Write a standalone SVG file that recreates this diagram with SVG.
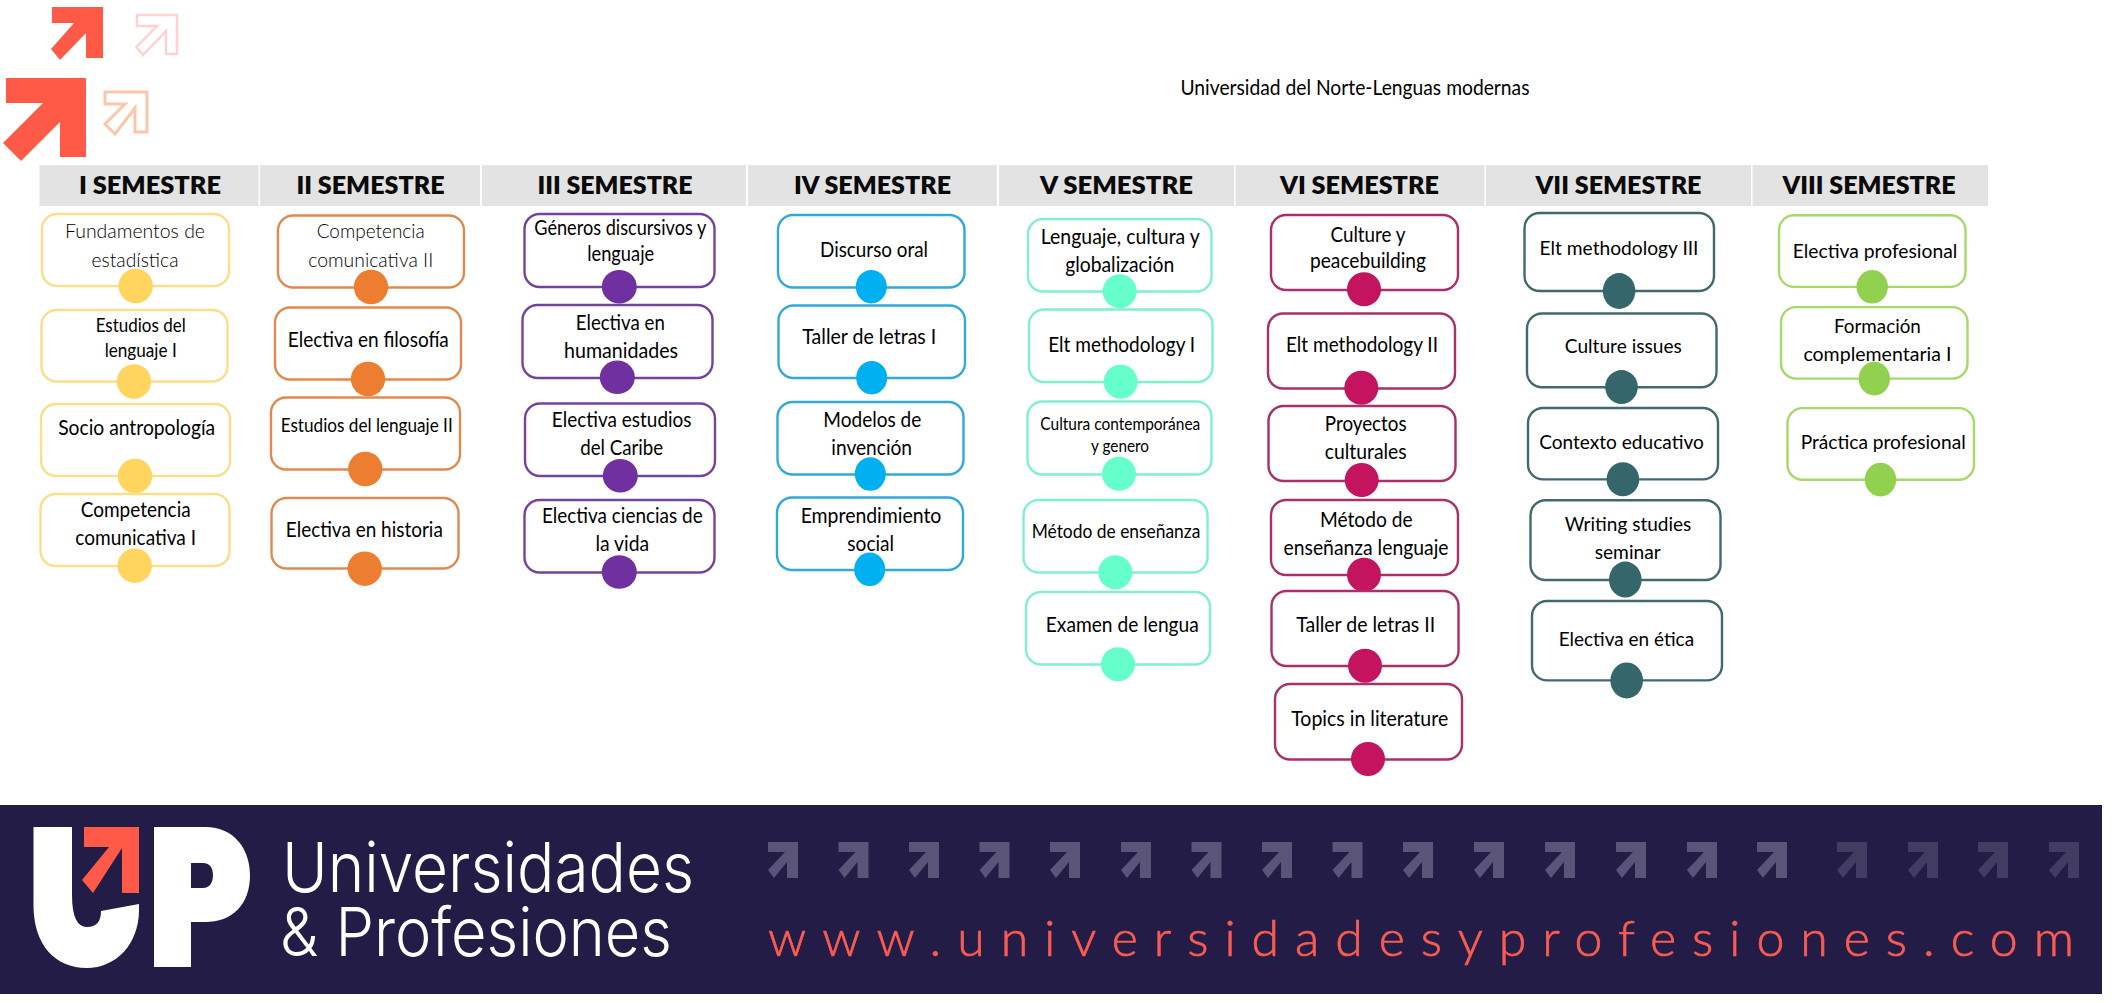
<svg xmlns="http://www.w3.org/2000/svg" width="2123" height="1003" viewBox="0 0 2123 1003">
<style>
text{font-family:"Lato","Liberation Sans",sans-serif;font-size:20.5px;fill:#000;text-anchor:middle}
.hd{font-weight:800;font-size:24px;fill:#0a0a0a}
.band{fill:#e3e3e3}
.box{fill:#fff;stroke-width:2.4}
.thin{fill:#000;font-weight:300}
.sm{font-size:18.5px}
.xs{font-size:16.5px}
.c1 rect{stroke:#fade8c}.c1 ellipse{fill:#ffd55f}
.c2 rect{stroke:#e08a50}.c2 ellipse{fill:#ed7d31}
.c3 rect{stroke:#7343a0}.c3 ellipse{fill:#7030a0}
.c4 rect{stroke:#30aad8}.c4 ellipse{fill:#00b0f0}
.c5 rect{stroke:#80efd2}.c5 ellipse{fill:#66ffcc}
.c6 rect{stroke:#a93068}.c6 ellipse{fill:#c4135f}
.c7 rect{stroke:#43696d}.c7 ellipse{fill:#35666b}
.c8 rect{stroke:#a6d86a}.c8 ellipse{fill:#92d050}
.logo{font-family:"Inter","Liberation Sans",sans-serif;font-weight:300;fill:#fff;text-anchor:start}
.u1{font-size:69px}
.u2{font-size:67px}
.url{font-weight:300;font-size:50px;fill:#f95c50;stroke:#f95c50;stroke-width:.7;text-anchor:start}
</style>
<defs>
<path id="ba" d="M0 0H30V36H19V20L6 36L0 28L17 10H0Z"/>
</defs>
<rect width="2123" height="1003" fill="#fff"/>

<g id="top-arrows">
<path d="M52 7H103V58H86V33L60 60L51 49L74 23H52Z" fill="#ff5a48"/>
<path d="M137 15H177V54H166V31L143 55L136.500 47L157 26H137Z" fill="none" stroke="#fbd3cf" stroke-width="2.500"/>
<path d="M6 78H86V157H60V122L21 161L3 143L43 103H6Z" fill="#ff5a48"/>
<path d="M105 92H147V132H135V108L115 134L105 124L125 104H105Z" fill="none" stroke="#fbc6aa" stroke-width="3"/>
</g>

<text id="title" style="font-size:21.5px" x="1355" y="94.500" textLength="349" lengthAdjust="spacingAndGlyphs">Universidad del Norte-Lenguas modernas</text>

<g id="header">
<rect class="band" x="39.500" y="165" width="219" height="41"/>
<rect class="band" x="260" y="165" width="220" height="41"/>
<rect class="band" x="482" y="165" width="264" height="41"/>
<rect class="band" x="748" y="165" width="249" height="41"/>
<rect class="band" x="999" y="165" width="235" height="41"/>
<rect class="band" x="1235.500" y="165" width="249" height="41"/>
<rect class="band" x="1486" y="165" width="265" height="41"/>
<rect class="band" x="1752.500" y="165" width="235.500" height="41"/>
<text class="hd" x="150" y="193.500" textLength="142" lengthAdjust="spacingAndGlyphs">I SEMESTRE</text>
<text class="hd" x="370.500" y="193.500" textLength="148" lengthAdjust="spacingAndGlyphs">II SEMESTRE</text>
<text class="hd" x="615" y="193.500" textLength="155" lengthAdjust="spacingAndGlyphs">III SEMESTRE</text>
<text class="hd" x="872.500" y="193.500" textLength="157" lengthAdjust="spacingAndGlyphs">IV SEMESTRE</text>
<text class="hd" x="1116.500" y="193.500" textLength="153" lengthAdjust="spacingAndGlyphs">V SEMESTRE</text>
<text class="hd" x="1359.500" y="193.500" textLength="159" lengthAdjust="spacingAndGlyphs">VI SEMESTRE</text>
<text class="hd" x="1618.500" y="193.500" textLength="166" lengthAdjust="spacingAndGlyphs">VII SEMESTRE</text>
<text class="hd" x="1869" y="193.500" textLength="173" lengthAdjust="spacingAndGlyphs">VIII SEMESTRE</text>
</g>

<g id="n1-1" class="c1"><rect class="box" x="42" y="214" width="187" height="72" rx="15"/><text class="thin" x="135" y="238" textLength="140" lengthAdjust="spacingAndGlyphs">Fundamentos de</text><text class="thin" x="135" y="266.500" textLength="87" lengthAdjust="spacingAndGlyphs">estadística</text><ellipse cx="135.700" cy="286" rx="17.200" ry="17.200"/></g>
<g id="n1-2" class="c1"><rect class="box" x="41.500" y="310" width="186" height="71.500" rx="15"/><text class="sm" x="140.700" y="332" textLength="90" lengthAdjust="spacingAndGlyphs">Estudios del</text><text class="sm" x="140.700" y="357" textLength="72" lengthAdjust="spacingAndGlyphs">lenguaje I</text><ellipse cx="134" cy="381.500" rx="17.200" ry="17.200"/></g>
<g id="n1-3" class="c1"><rect class="box" x="41" y="404" width="189" height="72" rx="15"/><text x="136.700" y="435" textLength="157" lengthAdjust="spacingAndGlyphs">Socio antropología</text><ellipse cx="135" cy="476" rx="17.200" ry="17.200"/></g>
<g id="n1-4" class="c1"><rect class="box" x="40.500" y="494" width="189" height="72" rx="15"/><text x="135.700" y="516.700" textLength="110" lengthAdjust="spacingAndGlyphs">Competencia</text><text x="135.700" y="545" textLength="120.700" lengthAdjust="spacingAndGlyphs">comunicativa I</text><ellipse cx="134.700" cy="565.700" rx="17.200" ry="17.200"/></g>

<g id="n2-1" class="c2"><rect class="box" x="278" y="215.500" width="186" height="72" rx="15"/><text class="thin" x="370.700" y="238" textLength="108" lengthAdjust="spacingAndGlyphs">Competencia</text><text class="thin" x="370.700" y="266.500" textLength="125" lengthAdjust="spacingAndGlyphs">comunicativa II</text><ellipse cx="371" cy="287" rx="17.200" ry="17.200"/></g>
<g id="n2-2" class="c2"><rect class="box" x="275" y="307.500" width="186" height="72" rx="15"/><text x="368.300" y="346.700" textLength="161" lengthAdjust="spacingAndGlyphs">Electiva en filosofía</text><ellipse cx="368" cy="379" rx="17.200" ry="17.200"/></g>
<g id="n2-3" class="c2"><rect class="box" x="271" y="397.500" width="189" height="72" rx="15"/><text class="sm" x="366.700" y="431.700" textLength="172" lengthAdjust="spacingAndGlyphs">Estudios del lenguaje II</text><ellipse cx="365.300" cy="469" rx="17.200" ry="17.200"/></g>
<g id="n2-4" class="c2"><rect class="box" x="271.500" y="498" width="187" height="70.500" rx="15"/><text x="364.300" y="536.700" textLength="157" lengthAdjust="spacingAndGlyphs">Electiva en historia</text><ellipse cx="364.700" cy="568.700" rx="17.200" ry="17.200"/></g>

<g id="n3-1" class="c3"><rect class="box" x="524.500" y="214" width="190" height="73" rx="15"/><text x="620.300" y="235" textLength="172" lengthAdjust="spacingAndGlyphs">Géneros discursivos y</text><text x="620.700" y="260.700" textLength="67" lengthAdjust="spacingAndGlyphs">lenguaje</text><ellipse cx="619.300" cy="286.700" rx="17.500" ry="16.800"/></g>
<g id="n3-2" class="c3"><rect class="box" x="522.500" y="305" width="190" height="73" rx="15"/><text x="620.300" y="330" textLength="89" lengthAdjust="spacingAndGlyphs">Electiva en</text><text x="621" y="358.300" textLength="114" lengthAdjust="spacingAndGlyphs">humanidades</text><ellipse cx="617.300" cy="377.300" rx="17.500" ry="16.800"/></g>
<g id="n3-3" class="c3"><rect class="box" x="525" y="403.500" width="190" height="72.500" rx="15"/><text x="621.700" y="426.700" textLength="139.700" lengthAdjust="spacingAndGlyphs">Electiva estudios</text><text x="621.700" y="455" textLength="83" lengthAdjust="spacingAndGlyphs">del Caribe</text><ellipse cx="620.300" cy="475.700" rx="17.500" ry="16.800"/></g>
<g id="n3-4" class="c3"><rect class="box" x="524.500" y="500" width="190" height="72.500" rx="15"/><text x="622.300" y="522.700" textLength="160.700" lengthAdjust="spacingAndGlyphs">Electiva ciencias de</text><text x="622.300" y="550.700" textLength="53.700" lengthAdjust="spacingAndGlyphs">la vida</text><ellipse cx="619.300" cy="572" rx="17.500" ry="16.800"/></g>

<g id="n4-1" class="c4"><rect class="box" x="778" y="215" width="186.500" height="72.500" rx="15"/><text x="874" y="256.700" textLength="108" lengthAdjust="spacingAndGlyphs">Discurso oral</text><ellipse cx="871.300" cy="286.700" rx="15.500" ry="16.800"/></g>
<g id="n4-2" class="c4"><rect class="box" x="778.500" y="305.500" width="186.500" height="72.500" rx="15"/><text x="869.300" y="344" textLength="134" lengthAdjust="spacingAndGlyphs">Taller de letras I</text><ellipse cx="871.700" cy="377.700" rx="15.500" ry="16.800"/></g>
<g id="n4-3" class="c4"><rect class="box" x="777.500" y="402" width="186" height="72.500" rx="15"/><text x="872.300" y="426.700" textLength="98" lengthAdjust="spacingAndGlyphs">Modelos de</text><text x="871.700" y="455" textLength="80.700" lengthAdjust="spacingAndGlyphs">invención</text><ellipse cx="870.300" cy="474" rx="15.500" ry="16.800"/></g>
<g id="n4-4" class="c4"><rect class="box" x="777" y="497.500" width="186" height="72.500" rx="15"/><text x="871" y="522.700" textLength="140.700" lengthAdjust="spacingAndGlyphs">Emprendimiento</text><text x="870.700" y="550.700" textLength="46.700" lengthAdjust="spacingAndGlyphs">social</text><ellipse cx="869.700" cy="569.300" rx="15.500" ry="16.800"/></g>

<g id="n5-1" class="c5"><rect class="box" x="1028" y="219" width="183.500" height="72.500" rx="15"/><text x="1120.300" y="244" textLength="159" lengthAdjust="spacingAndGlyphs">Lenguaje, cultura y</text><text x="1119.700" y="272" textLength="109" lengthAdjust="spacingAndGlyphs">globalización</text><ellipse cx="1119.700" cy="291.300" rx="17" ry="17"/></g>
<g id="n5-2" class="c5"><rect class="box" x="1029" y="309.500" width="183.500" height="72.500" rx="15"/><text x="1121.700" y="352" textLength="147" lengthAdjust="spacingAndGlyphs">Elt methodology I</text><ellipse cx="1120.700" cy="381.700" rx="17" ry="17"/></g>
<g id="n5-3" class="c5"><rect class="box" x="1027.500" y="401.500" width="184" height="73" rx="15"/><text class="xs" x="1120.300" y="430" textLength="160" lengthAdjust="spacingAndGlyphs">Cultura contemporánea</text><text class="xs" x="1120" y="451.700" textLength="58" lengthAdjust="spacingAndGlyphs">y genero</text><ellipse cx="1119" cy="473.700" rx="17" ry="17"/></g>
<g id="n5-4" class="c5"><rect class="box" x="1023.500" y="500" width="184" height="72.500" rx="15"/><text class="sm" x="1116" y="538.300" textLength="168.700" lengthAdjust="spacingAndGlyphs">Método de enseñanza</text><ellipse cx="1115.300" cy="572.300" rx="17" ry="17"/></g>
<g id="n5-5" class="c5"><rect class="box" x="1026" y="592" width="184" height="72.500" rx="15"/><text x="1122.300" y="632" textLength="153" lengthAdjust="spacingAndGlyphs">Examen de lengua</text><ellipse cx="1118" cy="664.300" rx="17" ry="17"/></g>

<g id="n6-1" class="c6"><rect class="box" x="1271" y="215" width="187" height="75" rx="15"/><text x="1368" y="242" textLength="75" lengthAdjust="spacingAndGlyphs">Culture y</text><text x="1368" y="268.300" textLength="116" lengthAdjust="spacingAndGlyphs">peacebuilding</text><ellipse cx="1364" cy="289.300" rx="17" ry="17"/></g>
<g id="n6-2" class="c6"><rect class="box" x="1268" y="313.500" width="187" height="75" rx="15"/><text x="1362" y="352" textLength="152" lengthAdjust="spacingAndGlyphs">Elt methodology II</text><ellipse cx="1361.300" cy="387.700" rx="17" ry="17"/></g>
<g id="n6-3" class="c6"><rect class="box" x="1268.500" y="406" width="187" height="75" rx="15"/><text x="1365.700" y="431" textLength="81.700" lengthAdjust="spacingAndGlyphs">Proyectos</text><text x="1365.700" y="459" textLength="82" lengthAdjust="spacingAndGlyphs">culturales</text><ellipse cx="1361.700" cy="480" rx="17" ry="17"/></g>
<g id="n6-4" class="c6"><rect class="box" x="1271" y="500" width="187" height="75" rx="15"/><text x="1366.300" y="526.700" textLength="92.700" lengthAdjust="spacingAndGlyphs">Método de</text><text x="1366" y="555" textLength="165" lengthAdjust="spacingAndGlyphs">enseñanza lenguaje</text><ellipse cx="1364" cy="574.700" rx="17" ry="17"/></g>
<g id="n6-5" class="c6"><rect class="box" x="1271.500" y="591" width="187" height="75" rx="15"/><text x="1365.700" y="632" textLength="139" lengthAdjust="spacingAndGlyphs">Taller de letras II</text><ellipse cx="1365" cy="665.700" rx="17" ry="17"/></g>
<g id="n6-6" class="c6"><rect class="box" x="1275" y="684" width="187" height="75.500" rx="15"/><text x="1369.700" y="726" textLength="157" lengthAdjust="spacingAndGlyphs">Topics in literature</text><ellipse cx="1368" cy="759" rx="17" ry="17"/></g>

<g id="n7-1" class="c7"><rect class="box" x="1524.500" y="213" width="189.500" height="78" rx="15"/><text class="sm" x="1619" y="255.400" textLength="159" lengthAdjust="spacingAndGlyphs">Elt methodology III</text><ellipse cx="1619.100" cy="291" rx="16.300" ry="17.900"/></g>
<g id="n7-2" class="c7"><rect class="box" x="1527" y="313.500" width="189.500" height="73.700" rx="15"/><text class="sm" x="1623.300" y="352.900" textLength="117" lengthAdjust="spacingAndGlyphs">Culture issues</text><ellipse cx="1621.500" cy="387.100" rx="16.300" ry="17"/></g>
<g id="n7-3" class="c7"><rect class="box" x="1528" y="408" width="190" height="71.400" rx="15"/><text class="sm" x="1621.500" y="448.900" textLength="164.600" lengthAdjust="spacingAndGlyphs">Contexto educativo</text><ellipse cx="1622.900" cy="479.300" rx="16.300" ry="17"/></g>
<g id="n7-4" class="c7"><rect class="box" x="1530.500" y="500.300" width="190" height="79.700" rx="15"/><text class="sm" x="1628" y="531.400" textLength="126.700" lengthAdjust="spacingAndGlyphs">Writing studies</text><text class="sm" x="1627.700" y="558.900" textLength="66" lengthAdjust="spacingAndGlyphs">seminar</text><ellipse cx="1625.300" cy="579.600" rx="16.300" ry="18"/></g>
<g id="n7-5" class="c7"><rect class="box" x="1532" y="601" width="190" height="79.400" rx="15"/><text class="sm" x="1626.400" y="646.100" textLength="135.300" lengthAdjust="spacingAndGlyphs">Electiva en ética</text><ellipse cx="1626.700" cy="680.400" rx="16.300" ry="18"/></g>

<g id="n8-1" class="c8"><rect class="box" x="1779" y="215.300" width="186.500" height="71.600" rx="15"/><text class="sm" x="1875" y="257.900" textLength="164.600" lengthAdjust="spacingAndGlyphs">Electiva profesional</text><ellipse cx="1872.200" cy="286.800" rx="15.700" ry="16.800"/></g>
<g id="n8-2" class="c8"><rect class="box" x="1781" y="307.100" width="186.500" height="71.500" rx="15"/><text class="sm" x="1877.400" y="333.200" textLength="87" lengthAdjust="spacingAndGlyphs">Formación</text><text class="sm" x="1877.400" y="361" textLength="148" lengthAdjust="spacingAndGlyphs">complementaria I</text><ellipse cx="1874.300" cy="378.600" rx="15.700" ry="16.800"/></g>
<g id="n8-3" class="c8"><rect class="box" x="1787.500" y="408.100" width="186.500" height="71.600" rx="15"/><text class="sm" x="1883.200" y="449.300" textLength="165" lengthAdjust="spacingAndGlyphs">Práctica profesional</text><ellipse cx="1880.500" cy="479.600" rx="15.700" ry="16.800"/></g>

<g id="banner">
<rect x="0" y="805" width="2102" height="189" fill="#231c47"/>
<path d="M33.500 827H72V895Q72 927 87 927Q101 927 101 911L139 904V910C139 945 115 968 87 968C55 968 33.500 945 33.500 905Z" fill="#fff"/>
<path fill-rule="evenodd" d="M154 827H205C235 827 250 850 250 875C250 905 232 922 205 922H191V967H154ZM191 863V888H203C210 888 213 882 213 875C213 868 210 863 203 863Z" fill="#fff"/>
<path d="M84 827H139V893H122V848L93 893L82 880L109 847H84Z" fill="#ff5a48"/>
<text class="logo u1" x="282" y="892" textLength="412" lengthAdjust="spacingAndGlyphs">Universidades</text>
<text class="logo u2" x="280" y="956" textLength="392" lengthAdjust="spacingAndGlyphs">&amp; Profesiones</text>
<g fill="#5a5479">
<use href="#ba" x="768" y="842"/><use href="#ba" x="838.500" y="842"/><use href="#ba" x="909" y="842"/><use href="#ba" x="979.500" y="842"/><use href="#ba" x="1050" y="842"/><use href="#ba" x="1121" y="842"/><use href="#ba" x="1191.500" y="842"/><use href="#ba" x="1262" y="842"/><use href="#ba" x="1332.500" y="842"/><use href="#ba" x="1403" y="842"/><use href="#ba" x="1474" y="842"/><use href="#ba" x="1545" y="842"/><use href="#ba" x="1616" y="842"/><use href="#ba" x="1687" y="842"/><use href="#ba" x="1757" y="842"/>
</g>
<g fill="#423c62">
<use href="#ba" x="1837" y="842"/><use href="#ba" x="1908" y="842"/><use href="#ba" x="1978" y="842"/><use href="#ba" x="2049" y="842"/>
</g>
<text class="url" x="768" y="956" textLength="1306" lengthAdjust="spacing">www.universidadesyprofesiones.com</text>
</g>
</svg>
